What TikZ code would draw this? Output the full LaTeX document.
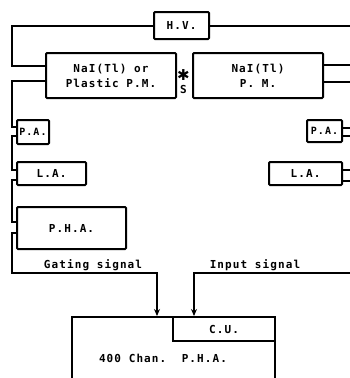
\documentclass[tikz,border=0pt]{standalone}
\usepackage{fontspec}
\newfontfamily\lett[LetterSpace=10]{DejaVu Sans Mono}
\newfontfamily\symfont{DejaVu Sans}
\usetikzlibrary{arrows.meta,calc}
\begin{document}
\begin{tikzpicture}[x=1pt,y=-1pt,
  box/.style={draw,line width=2pt,inner sep=0pt,rounded corners=1pt,font=\lett\bfseries\fontsize{11}{12}\selectfont,align=center},
  wire/.style={line width=2pt},
  lbl/.style={font=\lett\bfseries\fontsize{11}{12}\selectfont,inner sep=0pt}]
\useasboundingbox (0,0) rectangle (350,378);
\node[box,minimum width=55pt,minimum height=27pt] (hv) at (181.5,25.5) {H.V.};
\node[box,minimum width=130pt,minimum height=45pt] (lpm) at (111,75.5) {NaI(Tl) or\\[3pt]Plastic P.M.};
\node[box,minimum width=130pt,minimum height=45pt] (rpm) at (258,75.5) {NaI(Tl)\\[3pt]P. M.};
\node[lbl,font=\symfont\bfseries\fontsize{15}{15}\selectfont] (star) at (183.5,75) {✱};
\node[lbl] (s) at (183.5,89.5) {S};
\node[box,minimum width=32pt,minimum height=24pt,font=\lett\bfseries\fontsize{10}{12}\selectfont] (lpa) at (33,132) {P.A.};
\node[box,minimum width=69pt,minimum height=23pt] (lla) at (51.5,173.5) {L.A.};
\node[box,minimum width=109pt,minimum height=42pt] (lpha) at (71.5,228) {P.H.A.};
\node[box,minimum width=35pt,minimum height=22pt,font=\lett\bfseries\fontsize{10}{12}\selectfont] (rpa) at (324.5,131) {P.A.};
\node[box,minimum width=73pt,minimum height=23pt] (rla) at (305.5,173.5) {L.A.};
\node[box,rounded corners=0pt,minimum width=203pt,minimum height=80pt,anchor=north] (main) at (173.5,316) {};
\node[lbl] (chan) at (163,358) {400 Chan.\ \ P.H.A.};
\node[box,rounded corners=0pt,minimum width=102pt,minimum height=24pt,anchor=north east] (cu) at (main.north east) {C.U.};
\node[lbl] (gate) at (93,265) {Gating signal};
\node[lbl] (inp) at (255,265) {Input signal};
\coordinate (edge) at (350,0);
% HV connections
\draw[wire] (hv.west) -| (12,66) -- ($(lpm.west)+(0,-9.5)$);
\draw[wire] (hv.east) -- (hv.east -| edge);
% right PM outputs
\draw[wire] ($(rpm.east)+(0,-10.5)$) -- ++(28,0);
\draw[wire] ($(rpm.east)+(0,6.5)$) -- ++(28,0);
% left chain
\draw[wire] ($(lpm.west)+(0,5.5)$) -| (12,127) -- (lpa.west |- 0,127);
\draw[wire] (lpa.west |- 0,136) -| (12,170) -- (lla.west |- 0,170);
\draw[wire] (lla.west |- 0,180) -| (12,222) -- (lpha.west |- 0,222);
\draw[wire,-{Stealth[length=7pt,width=6pt]}] (lpha.west |- 0,233) -| (12,273) -| (main.north -| 157,0);
% right chain
\draw[wire] (rpa.east |- 0,128) -- (350,128);
\draw[wire] (rpa.east |- 0,136) -- (350,136);
\draw[wire] (rla.east |- 0,170) -- (350,170);
\draw[wire] (rla.east |- 0,181) -- (350,181);
\draw[wire,-{Stealth[length=7pt,width=6pt]}] (350,273) -| (main.north -| 194,0);
\end{tikzpicture}
\end{document}
